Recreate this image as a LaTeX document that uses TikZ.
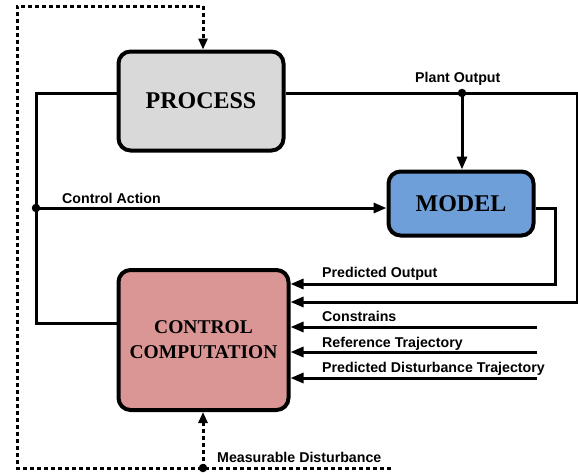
\documentclass[tikz,border=0pt]{standalone}
\usepackage{fontspec}
\setmainfont{Liberation Serif}
\newfontfamily\labfont{Liberation Sans}
\usetikzlibrary{arrows.meta}
\definecolor{procfill}{HTML}{D9D9D9}
\definecolor{modelfill}{HTML}{6F9FD8}
\definecolor{ctrlfill}{HTML}{D99694}
\tikzset{
  blockbox/.style={draw=black, line width=4pt, rounded corners=12pt, inner sep=0pt,
    align=center, font=\bfseries\fontsize{24}{26}\selectfont},
  conn/.style={line width=3pt, line join=miter},
  tip/.style={-{Triangle[length=13pt,width=10pt]}},
  dtip/.style={-{Triangle[length=11pt,width=9pt]}},
  dashconn/.style={line width=3pt, dash pattern=on 4pt off 3pt},
  sig/.style={inner sep=0pt, anchor=base west, font=\labfont\bfseries\fontsize{14.2}{16}\selectfont},
  junction/.style={circle, fill=black, inner sep=0pt, minimum size=8.5pt}
}
\begin{document}
\begin{tikzpicture}[x=1pt,y=-1pt]
\useasboundingbox (0,0) rectangle (578,474);

% blocks
\node[blockbox, fill=procfill, minimum width=165pt, minimum height=99pt] (process) at (201,101) {PROCESS};
\node[blockbox, fill=modelfill, minimum width=145pt, minimum height=64pt] (model) at (461,203.5) {MODEL};
\node[blockbox, fill=ctrlfill, minimum width=170pt, minimum height=140pt,
      font=\bfseries\fontsize{19.5}{25}\selectfont] (control) at (203.5,340) {CONTROL\\COMPUTATION};

% branch points and free ends
\coordinate (ca) at (36,208);
\coordinate (po) at (462,93);
\coordinate (md) at (203,468);
\coordinate (mdEnd) at (391,468);
\coordinate (dcorner) at (17,468);
\coordinate (dtop) at (203,6);
\coordinate (inC) at (537,327);
\coordinate (inR) at (537,352);
\coordinate (inD) at (537,378);

% control action loop
\draw[conn] (process.west |- po) -| (ca) |- (control.west |- 0,323);
\draw[conn,tip] (ca) -- (model.west |- ca);

% plant output
\draw[conn,tip] (process.east |- po) -- (577,93) |- (control.east |- 0,302);
\draw[conn,tip] (po) -- (po |- model.north);

% predicted output
\draw[conn,tip] (model.east |- ca) -| (555,284) -- (control.east |- 0,284);

% external inputs
\draw[conn,tip] (inC) -- (control.east |- inC);
\draw[conn,tip] (inR) -- (control.east |- inR);
\draw[conn,tip] (inD) -- (control.east |- inD);

% measurable disturbance
\draw[dashconn] (mdEnd) -- (dcorner) |- (dtop);
\draw[dashconn,dtip] (dtop) -- (dtop |- process.north);
\draw[dashconn,dtip] (md) -- (md |- control.south);

\node[junction] (jca) at (ca) {};
\node[junction] (jpo) at (po) {};
\node[junction] (jmd) at (md) {};

% signal labels
\node[sig] (lpo) at (415,82) {Plant Output};
\node[sig] (lca) at (62,203) {Control Action};
\node[sig] (lpred) at (322,277) {Predicted Output};
\node[sig] (lcon) at (322,321) {Constrains};
\node[sig] (lref) at (322,347) {Reference Trajectory};
\node[sig] (ldist) at (322,372) {Predicted Disturbance Trajectory};
\node[sig] (lmd) at (217,462) {Measurable Disturbance};
\end{tikzpicture}
\end{document}
